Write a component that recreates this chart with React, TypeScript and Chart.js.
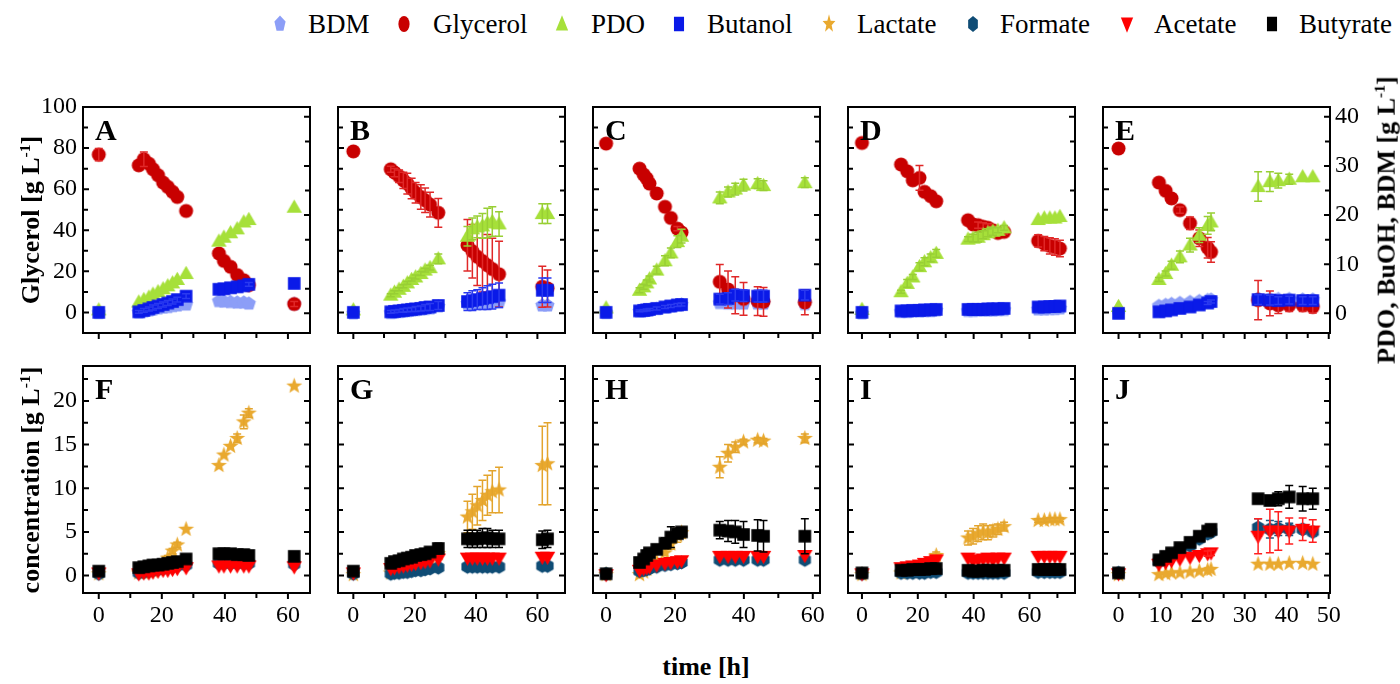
import React, { useEffect, useRef } from "react";
import { Chart, registerables } from "chart.js";
Chart.register(...registerables);

const FONT = "'Liberation Serif', 'Times New Roman', Times, serif";

// ---------------- DATA ----------------
// Panel A / F
const timeA = [0, 12.7, 14.3, 15.9, 17.2, 18.8, 20.4, 21.9, 23.4, 24.9, 27.7, 38.1, 39.7, 41.8, 43.9, 46.0, 47.6, 62.0];
const bdmA = [0.1, 0.2, 0.4, 0.6, 0.8, 1.0, 1.2, 1.3, 1.5, 1.6, 1.8, 2.5, 2.4, 2.3, 2.2, 2.2, 2.0, 1.9];
const glycerolA = [76.8, 71.6, 74.6, 72.4, 69.7, 66.8, 63.2, 61.1, 58.7, 56.2, 49.4, 28.7, 25.1, 22.2, 18.2, 15.7, 13.3, 4.1];
const glycerolErrA = [3.0, 0, 3.5, 0, 0, 0, 0, 0, 0, 0, 0, 0, 0, 0, 0, 0, 2.0, 1.2];
const pdoA = [0.7, 2.3, 2.8, 3.3, 3.9, 4.4, 5.0, 5.6, 6.2, 6.9, 8.1, 14.7, 15.5, 16.4, 17.2, 18.6, 19.1, 21.6];
const butanolA = [0.2, 0.3, 0.6, 0.9, 1.2, 1.5, 1.8, 2.1, 2.4, 2.8, 3.5, 4.9, 5.0, 5.2, 5.4, 5.6, 5.9, 6.1];
const butanolErrA = [0, 0.3, 0.4, 0.4, 0.5, 0.5, 0.5, 0.5, 0.5, 0.5, 0.5, 0, 0, 0, 0, 0, 0.4, 0];
const lactateF = [0.2, 0.3, 0.3, 0.4, 0.5, 0.7, 1.2, 2.0, 2.8, 3.5, 5.3, 12.6, 13.8, 14.8, 15.7, 17.6, 18.6, 21.7];
const lactateErrF = [0, 0, 0, 0, 0, 0, 0.2, 0.3, 0.3, 0.3, 0, 0, 0, 0, 0.5, 0.8, 0.5, 0];
const formateF = [0.2, 0.3, 0.4, 0.5, 0.6, 0.7, 0.8, 0.9, 1.0, 1.1, 1.2, 1.4, 1.4, 1.4, 1.4, 1.4, 1.4, 1.3];
const acetateF = [0.3, 0.2, 0.3, 0.3, 0.4, 0.5, 0.6, 0.6, 0.7, 0.8, 0.9, 1.1, 1.1, 1.1, 1.1, 1.1, 1.1, 1.0];
const butyrateF = [0.5, 0.9, 1.0, 1.1, 1.2, 1.2, 1.3, 1.4, 1.5, 1.6, 1.9, 2.5, 2.5, 2.5, 2.4, 2.4, 2.3, 2.2];

// Panel B / G
const timeB = [0, 12.2, 13.4, 14.9, 16.3, 17.6, 19.0, 20.3, 22.0, 23.4, 25.0, 27.7, 37.2, 38.8, 40.4, 42.1, 43.7, 45.3, 47.5, 61.6, 63.3];
const bdmB = [0.0, 0.1, 0.2, 0.3, 0.4, 0.5, 0.6, 0.7, 0.8, 0.9, 1.0, 1.4, 2.0, 2.0, 2.1, 2.1, 2.2, 2.2, 2.3, 1.6, 1.6];
const glycerolB = [78.4, 69.7, 68.1, 66.3, 64.3, 62.7, 60.3, 58.3, 56.2, 54.6, 52.5, 48.5, 32.7, 29.8, 27.1, 25.0, 23.0, 21.1, 18.6, 12.5, 11.7];
const glycerolErrB = [0, 1.5, 2, 3, 4, 5, 5, 5, 6, 6, 6, 7, 12.5, 13, 14, 15, 15, 15, 16, 10, 9];
const pdoB = [0.7, 3.7, 4.3, 4.9, 5.5, 6.2, 6.9, 7.4, 8.1, 8.8, 9.3, 11.1, 15.7, 17.2, 17.6, 17.8, 18.4, 18.7, 18.2, 20.3, 20.3];
const pdoErrB = [0, 0.3, 0.3, 0.3, 0.3, 0.3, 0.3, 0.4, 0.4, 0.4, 0.5, 1.0, 2.0, 2.2, 2.2, 2.5, 3.0, 3.0, 2.5, 2.0, 2.0];
const butanolB = [0.2, 0.3, 0.4, 0.5, 0.6, 0.7, 0.8, 0.9, 1.0, 1.2, 1.3, 1.6, 2.4, 2.6, 2.8, 3.0, 3.2, 3.4, 3.7, 4.7, 4.7];
const butanolErrB = [0, 0.3, 0.3, 0.3, 0.4, 0.4, 0.4, 0.5, 0.5, 0.6, 0.7, 0.8, 1.8, 2.0, 2.0, 2.2, 2.4, 2.5, 2.5, 2.5, 2.5];
const lactateG = [0.1, 0.3, 0.4, 0.6, 0.8, 1.0, 1.2, 1.4, 1.6, 1.8, 2.1, 2.5, 6.7, 7.3, 8.0, 8.6, 9.2, 9.6, 9.8, 12.6, 12.8];
const lactateErrG = [0, 0, 0, 0, 0, 0, 0, 0, 0.3, 0.3, 0.4, 0.5, 1.8, 2.0, 2.2, 2.3, 2.3, 2.4, 2.6, 4.5, 4.7];
const formateG = [0.2, 0.2, 0.3, 0.3, 0.4, 0.4, 0.5, 0.6, 0.6, 0.7, 0.8, 0.9, 1.0, 1.0, 1.0, 1.0, 1.0, 1.0, 1.0, 1.1, 1.1];
const acetateG = [0.3, 0.8, 0.9, 1.0, 1.1, 1.2, 1.3, 1.4, 1.5, 1.6, 1.7, 1.9, 2.0, 2.0, 2.0, 2.0, 2.0, 2.0, 2.0, 2.1, 2.1];
const butyrateG = [0.5, 1.4, 1.6, 1.7, 1.9, 2.0, 2.1, 2.3, 2.4, 2.5, 2.7, 3.1, 4.2, 4.2, 4.2, 4.3, 4.3, 4.2, 4.2, 4.1, 4.2];
const butyrateErrG = [0, 0.3, 0.3, 0.3, 0.4, 0.4, 0.4, 0.4, 0.5, 0.5, 0.5, 0.6, 1.0, 1.0, 1.0, 1.1, 1.1, 1.0, 1.0, 1.0, 1.0];

// Panel C / H
const timeC = [0, 9.7, 10.9, 11.8, 12.6, 14.7, 17.1, 18.8, 20.7, 21.9, 33.0, 35.4, 37.5, 39.9, 44.0, 45.7, 57.7];
const bdmC = [0.1, 0.4, 0.5, 0.6, 0.7, 0.9, 1.2, 1.4, 1.6, 1.8, 2.1, 2.0, 2.0, 2.0, 2.0, 2.0, 1.9];
const glycerolC = [82.2, 70.0, 67.1, 65.2, 62.7, 57.9, 51.4, 46.0, 40.8, 38.9, 14.9, 11.2, 8.4, 6.6, 5.5, 5.2, 4.9];
const glycerolErrC = [0, 0, 0, 0, 0, 0, 0, 0, 1.0, 1.5, 8.4, 9.0, 9.0, 8.0, 7.0, 7.0, 6.0];
const pdoC = [1.1, 4.7, 5.4, 6.2, 7.0, 8.8, 10.7, 12.3, 14.6, 15.7, 23.5, 24.7, 25.3, 26.1, 26.4, 26.0, 26.6];
const pdoErrC = [0, 0.5, 0.5, 0.6, 0.6, 0.8, 1.0, 1.0, 1.2, 1.4, 1.2, 1.0, 1.2, 1.2, 1.0, 1.0, 1.0];
const butanolC = [0.2, 0.5, 0.6, 0.7, 0.8, 1.0, 1.3, 1.5, 1.7, 1.8, 2.9, 3.0, 3.7, 3.6, 3.5, 3.5, 3.7];
const butanolErrC = [0, 0.2, 0.2, 0.2, 0.2, 0.3, 0.3, 0.3, 0.3, 0.3, 1.0, 1.2, 1.2, 1.2, 1.2, 1.2, 1.0];
const lactateH = [0.1, 0.1, 0.4, 0.7, 1.0, 1.6, 2.6, 3.6, 4.6, 4.9, 12.4, 14.0, 14.7, 15.3, 15.5, 15.4, 15.7];
const lactateErrH = [0, 0, 0, 0, 0, 0, 0, 0.6, 0.8, 0.6, 1.2, 1.0, 0.6, 0.3, 0.3, 0.3, 0.5];
const formateH = [0.2, 0.5, 0.6, 0.7, 0.8, 1.0, 1.2, 1.3, 1.4, 1.5, 1.8, 1.8, 1.8, 1.8, 1.8, 1.8, 1.8];
const acetateH = [0.1, 0.6, 0.8, 0.9, 1.0, 1.2, 1.4, 1.5, 1.6, 1.7, 2.2, 2.2, 2.2, 2.2, 2.2, 2.2, 2.3];
const butyrateH = [0.2, 1.5, 1.9, 2.3, 2.6, 3.0, 3.7, 4.4, 4.8, 5.0, 5.2, 5.1, 5.0, 4.7, 4.6, 4.5, 4.5];
const butyrateErrH = [0, 0, 0, 0, 0, 0.4, 0.6, 1.2, 0.5, 0.4, 1.0, 1.2, 1.3, 1.5, 1.8, 1.8, 2.0];

// Panel D / I
const timeD = [0, 14.0, 16.2, 18.2, 20.6, 22.4, 24.6, 26.6, 38.0, 39.8, 41.6, 43.4, 45.1, 46.9, 48.7, 50.9, 63.1, 65.3, 67.3, 69.1, 70.9];
const bdmD = [0.0, 0.3, 0.3, 0.4, 0.4, 0.5, 0.5, 0.6, 0.5, 0.5, 0.6, 0.6, 0.6, 0.6, 0.7, 0.7, 0.8, 0.8, 0.9, 0.9, 1.0];
const glycerolD = [82.5, 72.0, 68.7, 64.3, 65.5, 58.7, 56.6, 54.1, 44.9, 42.8, 42.5, 41.7, 41.2, 40.0, 38.7, 39.2, 34.8, 33.5, 32.4, 31.9, 31.1];
const glycerolErrD = [0, 0, 0, 0, 6.0, 0, 0, 0, 0, 0, 1.5, 2.0, 2.0, 2.0, 1.0, 1.0, 3.0, 3.5, 4.0, 4.0, 4.0];
const pdoD = [0.8, 4.4, 6.1, 7.4, 9.5, 10.5, 11.3, 12.2, 15.1, 15.3, 15.5, 16.0, 16.4, 16.7, 16.9, 17.4, 19.1, 19.4, 19.4, 19.4, 19.7];
const pdoErrD = [0, 0.3, 0.8, 0.5, 0.8, 0.8, 0.8, 0.8, 0.5, 0.8, 1.0, 0.8, 0.8, 0.8, 0.5, 0.5, 0, 0, 0, 0, 0];
const butanolD = [0.2, 0.5, 0.5, 0.6, 0.6, 0.7, 0.7, 0.8, 0.8, 0.8, 0.8, 0.8, 0.9, 0.9, 0.9, 1.0, 1.3, 1.3, 1.4, 1.4, 1.5];
const lactateI = [0.1, 0.3, 0.4, 0.6, 0.8, 1.1, 1.6, 2.3, 4.3, 4.5, 4.8, 5.0, 4.9, 5.1, 5.3, 5.6, 6.3, 6.3, 6.4, 6.4, 6.4];
const lactateErrI = [0, 0, 0, 0, 0, 0, 0.2, 0.4, 0.8, 0.9, 0.9, 0.9, 0.8, 0.7, 0.6, 0.5, 0.2, 0.2, 0.2, 0.2, 0.2];
const formateI = [0.2, 0.3, 0.3, 0.3, 0.3, 0.3, 0.4, 0.4, 0.3, 0.3, 0.3, 0.3, 0.3, 0.3, 0.3, 0.3, 0.4, 0.4, 0.4, 0.4, 0.4];
const acetateI = [0.2, 0.9, 1.0, 1.1, 1.2, 1.4, 1.6, 1.8, 2.0, 1.7, 1.8, 1.9, 2.0, 1.8, 2.0, 2.0, 2.2, 2.2, 2.2, 2.2, 2.2];
const butyrateI = [0.3, 0.6, 0.6, 0.7, 0.7, 0.7, 0.8, 0.8, 0.6, 0.5, 0.5, 0.6, 0.6, 0.5, 0.6, 0.6, 0.7, 0.7, 0.7, 0.7, 0.7];

// Panel E / J
const timeE = [0, 9.6, 11.2, 12.6, 14.6, 17.0, 19.2, 21.2, 22.0, 33.2, 36.0, 38.0, 40.6, 43.8, 46.2];
const bdmE = [0.1, 1.5, 1.7, 1.9, 2.1, 2.3, 2.5, 2.7, 2.8, 3.0, 2.9, 2.9, 2.9, 2.8, 2.8];
const glycerolE = [79.8, 63.2, 59.2, 55.5, 49.8, 43.4, 36.1, 31.5, 29.4, 6.0, 4.4, 3.5, 3.5, 3.5, 2.7];
const glycerolErrE = [0, 0, 0, 0, 1.5, 3.0, 4.0, 5.0, 5.0, 9.5, 6.0, 4.0, 3.0, 3.0, 3.0];
const pdoE = [1.4, 6.9, 8.1, 9.8, 11.5, 13.9, 15.9, 17.9, 18.6, 25.8, 26.8, 27.0, 27.3, 27.8, 27.8];
const pdoErrE = [0, 0.4, 0.5, 0.8, 1.2, 1.4, 1.5, 1.8, 1.8, 3.0, 2.0, 1.5, 1.0, 0, 0];
const butanolE = [0.0, 0.3, 0.5, 0.7, 1.0, 1.3, 1.7, 2.1, 2.4, 2.8, 2.7, 2.6, 2.7, 2.6, 2.6];
const butanolErrE = [0, 0, 0, 0, 0, 0, 0, 0.3, 0.3, 1.0, 1.0, 0.8, 0.8, 0.8, 0.8];
const lactateJ = [0.1, 0.1, 0.2, 0.3, 0.3, 0.4, 0.5, 0.6, 0.7, 1.3, 1.3, 1.3, 1.4, 1.4, 1.3];
const formateJ = [0.3, 1.6, 1.9, 2.3, 2.9, 3.4, 4.2, 4.8, 5.0, 5.5, 5.3, 5.4, 5.3, 5.3, 5.0];
const formateErrJ = [0, 0, 0, 0, 0, 0, 0.3, 0.5, 0.5, 1.0, 1.0, 0.8, 0.7, 0.5, 0.5];
const acetateJ = [0.2, 1.3, 1.5, 1.7, 1.9, 2.1, 2.3, 2.5, 2.6, 4.5, 5.1, 5.1, 5.1, 5.3, 5.1];
const acetateErrJ = [0, 0, 0, 0, 0, 0, 0, 0.3, 0.3, 2.0, 2.5, 2.2, 1.5, 1.3, 1.3];
const butyrateJ = [0.3, 1.8, 2.2, 2.6, 3.2, 3.8, 4.5, 5.1, 5.3, 8.8, 8.6, 8.8, 9.0, 8.8, 8.8];
const butyrateErrJ = [0, 0, 0, 0, 0, 0, 0.3, 0.4, 0.4, 0, 0.5, 0.8, 1.3, 1.4, 1.2];

// legend / series names
const LEGEND = ["BDM", "Glycerol", "PDO", "Butanol", "Lactate", "Formate", "Acetate", "Butyrate"];
const PANEL_LETTERS = ["A", "B", "C", "D", "E", "F", "G", "H", "I", "J"];

// x-axis ranges per column (min, max, tick step, label step)
const X_MIN = [-5, -5, -3.8, -5, -3.7];
const X_MAX = [67, 69, 62.1, 76.3, 50.3];
const X_STEP = [10, 10, 10, 10, 5];
const X_LABEL_STEP = [20, 20, 20, 20, 10];

// ---------------- STYLES ----------------
const STYLE: Record<string, { color: string; err: string; shape: string; axis: string }> = {
  BDM: { color: "#8c9ef7", err: "#c7cffc", shape: "pentagon", axis: "y1" },
  Glycerol: { color: "#c80000", err: "#e02828", shape: "circle", axis: "y" },
  PDO: { color: "#a6e03a", err: "#98cf34", shape: "triangle", axis: "y1" },
  Butanol: { color: "#0a1ae8", err: "#2a3af0", shape: "square", axis: "y1" },
  Lactate: { color: "#e9a92f", err: "#e3a42c", shape: "star", axis: "y" },
  Formate: { color: "#0f4c75", err: "#1b5a85", shape: "hexagon", axis: "y" },
  Acetate: { color: "#ff0000", err: "#ff2020", shape: "triangleDown", axis: "y" },
  Butyrate: { color: "#000000", err: "#000000", shape: "square", axis: "y" },
};

type SeriesDef = { key: string; values: number[]; errors?: number[] };
type PanelDef = { row: number; col: number; time: number[]; series: SeriesDef[] };

const PANELS: PanelDef[] = [
  { row: 0, col: 0, time: timeA, series: [
    { key: "BDM", values: bdmA }, { key: "Glycerol", values: glycerolA, errors: glycerolErrA },
    { key: "PDO", values: pdoA }, { key: "Butanol", values: butanolA, errors: butanolErrA } ] },
  { row: 0, col: 1, time: timeB, series: [
    { key: "BDM", values: bdmB }, { key: "Glycerol", values: glycerolB, errors: glycerolErrB },
    { key: "PDO", values: pdoB, errors: pdoErrB }, { key: "Butanol", values: butanolB, errors: butanolErrB } ] },
  { row: 0, col: 2, time: timeC, series: [
    { key: "BDM", values: bdmC }, { key: "Glycerol", values: glycerolC, errors: glycerolErrC },
    { key: "PDO", values: pdoC, errors: pdoErrC }, { key: "Butanol", values: butanolC, errors: butanolErrC } ] },
  { row: 0, col: 3, time: timeD, series: [
    { key: "BDM", values: bdmD }, { key: "Glycerol", values: glycerolD, errors: glycerolErrD },
    { key: "PDO", values: pdoD, errors: pdoErrD }, { key: "Butanol", values: butanolD } ] },
  { row: 0, col: 4, time: timeE, series: [
    { key: "BDM", values: bdmE }, { key: "Glycerol", values: glycerolE, errors: glycerolErrE },
    { key: "PDO", values: pdoE, errors: pdoErrE }, { key: "Butanol", values: butanolE, errors: butanolErrE } ] },
  { row: 1, col: 0, time: timeA, series: [
    { key: "Lactate", values: lactateF, errors: lactateErrF }, { key: "Formate", values: formateF },
    { key: "Acetate", values: acetateF }, { key: "Butyrate", values: butyrateF } ] },
  { row: 1, col: 1, time: timeB, series: [
    { key: "Lactate", values: lactateG, errors: lactateErrG }, { key: "Formate", values: formateG },
    { key: "Acetate", values: acetateG }, { key: "Butyrate", values: butyrateG, errors: butyrateErrG } ] },
  { row: 1, col: 2, time: timeC, series: [
    { key: "Lactate", values: lactateH, errors: lactateErrH }, { key: "Formate", values: formateH },
    { key: "Acetate", values: acetateH }, { key: "Butyrate", values: butyrateH, errors: butyrateErrH } ] },
  { row: 1, col: 3, time: timeD, series: [
    { key: "Lactate", values: lactateI, errors: lactateErrI }, { key: "Formate", values: formateI },
    { key: "Acetate", values: acetateI }, { key: "Butyrate", values: butyrateI } ] },
  { row: 1, col: 4, time: timeE, series: [
    { key: "Lactate", values: lactateJ }, { key: "Formate", values: formateJ, errors: formateErrJ },
    { key: "Acetate", values: acetateJ, errors: acetateErrJ }, { key: "Butyrate", values: butyrateJ, errors: butyrateErrJ } ] },
];

// ---------------- LAYOUT ----------------
const COL_LEFT = [83, 338, 593, 848, 1103];
const BOX_W = 227;
const ROW_TOP = [107, 366];
const ROW_H = [226, 227];
const PADL = 70, PADR = 70, PADT = 22, PADB = 45;
const LEGEND_MARK_X = [280, 404, 562, 679, 829, 973, 1127, 1272];
const LEGEND_TEXT_X = [308, 433, 591, 707, 857, 1000, 1154, 1299];

// ---------------- MARKERS ----------------
function shapePath(ctx: CanvasRenderingContext2D, shape: string, cx: number, cy: number, r: number) {
  ctx.beginPath();
  const poly = (n: number, rad: number, start: number) => {
    for (let i = 0; i < n; i++) {
      const a = start + (i * 2 * Math.PI) / n;
      const x = cx + rad * Math.cos(a), y = cy + rad * Math.sin(a);
      if (i === 0) ctx.moveTo(x, y); else ctx.lineTo(x, y);
    }
  };
  switch (shape) {
    case "circle": ctx.arc(cx, cy, r, 0, Math.PI * 2); break;
    case "square": ctx.rect(cx - r * 0.9, cy - r * 0.9, r * 1.8, r * 1.8); break;
    case "triangle":
      ctx.moveTo(cx, cy - r * 1.1); ctx.lineTo(cx + r * 1.1, cy + r * 0.8); ctx.lineTo(cx - r * 1.1, cy + r * 0.8); break;
    case "triangleDown":
      ctx.moveTo(cx, cy + r * 1.1); ctx.lineTo(cx + r * 1.1, cy - r * 0.8); ctx.lineTo(cx - r * 1.1, cy - r * 0.8); break;
    case "pentagon": poly(5, r * 1.05, -Math.PI / 2); break;
    case "hexagon": poly(6, r * 1.0, -Math.PI / 2); break;
    case "star": {
      for (let i = 0; i < 10; i++) {
        const a = -Math.PI / 2 + (i * Math.PI) / 5;
        const rad = i % 2 === 0 ? r * 1.2 : r * 0.5;
        const x = cx + rad * Math.cos(a), y = cy + rad * Math.sin(a);
        if (i === 0) ctx.moveTo(x, y); else ctx.lineTo(x, y);
      }
      break;
    }
  }
  ctx.closePath();
}

function makeMarker(key: string, r: number): HTMLCanvasElement {
  const st = STYLE[key];
  const size = Math.ceil(r * 2.6) + 2;
  const c = document.createElement("canvas");
  c.width = size; c.height = size;
  const ctx = c.getContext("2d")!;
  ctx.fillStyle = st.color;
  shapePath(ctx, st.shape, size / 2, size / 2, r);
  ctx.fill();
  return c;
}

const isMult = (v: number, s: number) => Math.abs(v / s - Math.round(v / s)) < 1e-6;

// ---------------- PLUGINS ----------------
const errorBarPlugin = {
  id: "errorBars",
  afterDatasetDraw(chart: any, args: any) {
    const ds = chart.data.datasets[args.index];
    if (!ds.errors) return;
    const ys = chart.scales[ds.yAxisID];
    const ctx = chart.ctx;
    ctx.save();
    ctx.strokeStyle = ds.errColor;
    ctx.lineWidth = 1.5;
    ds.data.forEach((pt: any, i: number) => {
      const e = ds.errors[i];
      if (!e) return;
      const el = args.meta.data[i];
      const x = el.x;
      const yTop = ys.getPixelForValue(pt.y + e);
      const yBot = ys.getPixelForValue(pt.y - e);
      ctx.beginPath();
      ctx.moveTo(x, yTop); ctx.lineTo(x, yBot);
      ctx.moveTo(x - 4, yTop); ctx.lineTo(x + 4, yTop);
      ctx.moveTo(x - 4, yBot); ctx.lineTo(x + 4, yBot);
      ctx.stroke();
    });
    ctx.restore();
  },
};

function makeFramePlugin(steps: { x: number; xMajor: number; y: number; yMajor: number; y1: number; y1Major: number }) {
  return {
    id: "frame",
    afterDraw(chart: any) {
      const ctx = chart.ctx;
      const a = chart.chartArea;
      ctx.save();
      ctx.strokeStyle = "#000";
      ctx.lineWidth = 2;
      const each = (scale: any, step: number, major: number, fn: (p: number, len: number) => void) => {
        const start = Math.ceil(scale.min / step - 1e-9) * step;
        for (let v = start; v <= scale.max + 1e-9; v += step) {
          const p = scale.getPixelForValue(v);
          fn(p, isMult(v, major) ? 6 : 5);
        }
      };
      ctx.beginPath();
      each(chart.scales.x, steps.x, steps.xMajor, (p, len) => {
        if (p < a.left + 1 || p > a.right - 1) return;
        ctx.moveTo(p, a.bottom); ctx.lineTo(p, a.bottom + len);
      });
      each(chart.scales.y, steps.y, steps.yMajor, (p, len) => {
        if (p < a.top + 1 || p > a.bottom - 1) return;
        ctx.moveTo(a.left, p); ctx.lineTo(a.left + len, p);
      });
      each(chart.scales.y1, steps.y1, steps.y1Major, (p, len) => {
        if (p < a.top + 1 || p > a.bottom - 1) return;
        ctx.moveTo(a.right, p); ctx.lineTo(a.right - len, p);
      });
      ctx.stroke();
      ctx.strokeRect(a.left, a.top, a.right - a.left, a.bottom - a.top);
      ctx.restore();
    },
  };
}

function buildChart(canvas: HTMLCanvasElement, p: PanelDef, markers: Record<string, HTMLCanvasElement>) {
  const top = p.row === 0;
  const col = p.col;
  const tickFont = { family: FONT, size: 24 };
  const yMin = top ? -10 : -2, yMax = top ? 100 : 24;
  const yStep = top ? 10 : 2.5, yLabel = top ? 20 : 5;
  const y1Min = top ? -4 : -2, y1Max = top ? 42 : 24;
  const y1Step = top ? 5 : 2.5, y1Label = top ? 10 : 5;

  const datasets = p.series.map((s) => {
    const st = STYLE[s.key];
    return {
      label: s.key,
      data: p.time.map((t, i) => ({ x: t, y: s.values[i] })),
      errors: s.errors,
      errColor: st.err,
      yAxisID: top ? st.axis : "y",
      pointStyle: markers[s.key],
      pointRadius: 7,
      pointHoverRadius: 7,
      showLine: false,
      clip: false,
      order: 20 - LEGEND.indexOf(s.key),
    };
  });

  return new Chart(canvas, {
    type: "scatter",
    data: { datasets } as any,
    plugins: [errorBarPlugin, makeFramePlugin({ x: X_STEP[col], xMajor: X_LABEL_STEP[col], y: yStep, yMajor: yLabel, y1: y1Step, y1Major: y1Label })],
    options: {
      animation: false,
      responsive: false,
      devicePixelRatio: 1,
      events: [],
      layout: { padding: { top: PADT, left: 0, right: 0, bottom: 0 } },
      plugins: { legend: { display: false }, tooltip: { enabled: false } },
      scales: {
        x: {
          type: "linear", position: "bottom", min: X_MIN[col], max: X_MAX[col],
          grid: { display: false, drawTicks: false }, border: { display: false },
          ticks: {
            stepSize: X_STEP[col], includeBounds: false, autoSkip: false, maxRotation: 0, minRotation: 0,
            padding: 8, font: tickFont, color: "#000",
            callback: (v: any) => (!top && v >= 0 && isMult(v, X_LABEL_STEP[col]) ? String(Math.round(v)) : ""),
          },
          afterFit: (s: any) => { s.height = PADB; },
        },
        y: {
          type: "linear", position: "left", min: yMin, max: yMax,
          grid: { display: false, drawTicks: false }, border: { display: false },
          ticks: {
            stepSize: yStep, includeBounds: false, autoSkip: false, padding: 6, font: tickFont, color: "#000",
            callback: (v: any) => (col === 0 && v >= 0 && isMult(v, yLabel) ? String(Math.round(v)) : ""),
          },
          afterFit: (s: any) => { s.width = PADL; },
        },
        y1: {
          type: "linear", position: "right", min: y1Min, max: y1Max,
          grid: { display: false, drawTicks: false }, border: { display: false },
          ticks: {
            stepSize: y1Step, includeBounds: false, autoSkip: false, padding: 5, font: tickFont, color: "#000",
            callback: (v: any) => (top && col === 4 && v >= 0 && v <= 40 && isMult(v, y1Label) ? String(Math.round(v)) : ""),
          },
          afterFit: (s: any) => { s.width = PADR; },
        },
      },
    } as any,
  });
}

const titleStyle: React.CSSProperties = {
  position: "absolute", fontFamily: FONT, fontWeight: "bold", fontSize: 26, whiteSpace: "nowrap",
  transform: "translate(-50%, -50%) rotate(-90deg)", lineHeight: "30px", color: "#000",
};

export default function App() {
  const canvasRefs = useRef<(HTMLCanvasElement | null)[]>([]);
  const legendRefs = useRef<(HTMLCanvasElement | null)[]>([]);

  useEffect(() => {
    const markers: Record<string, HTMLCanvasElement> = {};
    LEGEND.forEach((k) => { markers[k] = makeMarker(k, 7); });
    const charts = PANELS.map((p, i) => buildChart(canvasRefs.current[i]!, p, markers));
    LEGEND.forEach((k, i) => {
      const c = legendRefs.current[i];
      if (!c) return;
      const ctx = c.getContext("2d")!;
      ctx.clearRect(0, 0, c.width, c.height);
      ctx.save();
      ctx.translate(c.width / 2, c.height / 2);
      ctx.scale(0.8, 1.15);
      ctx.fillStyle = STYLE[k].color;
      shapePath(ctx, STYLE[k].shape, 0, 0, 7);
      ctx.fill();
      ctx.restore();
    });
    return () => charts.forEach((c) => c.destroy());
  }, []);

  return (
    <div style={{ position: "absolute", left: 0, top: 0, width: 1400, height: 684, background: "#fff", overflow: "hidden" }}>
      {/* legend */}
      {LEGEND.map((k, i) => (
        <React.Fragment key={k}>
          <canvas ref={(el) => { legendRefs.current[i] = el; }} width={20} height={24}
            style={{ position: "absolute", left: LEGEND_MARK_X[i] - 10, top: 12, width: 20, height: 24 }} />
          <div style={{ position: "absolute", left: LEGEND_TEXT_X[i], top: 8, fontFamily: FONT, fontSize: 27, lineHeight: "32px", color: "#000", whiteSpace: "nowrap" }}>{k}</div>
        </React.Fragment>
      ))}
      {/* panels */}
      {PANELS.map((p, i) => {
        const left = COL_LEFT[p.col] - PADL;
        const top = ROW_TOP[p.row] - PADT;
        const w = BOX_W + PADL + PADR;
        const h = ROW_H[p.row] + PADT + PADB;
        return (
          <canvas key={i} ref={(el) => { canvasRefs.current[i] = el; }} width={w} height={h}
            style={{ position: "absolute", left, top, width: w, height: h }} />
        );
      })}
      {PANELS.map((p, i) => (
        <div key={"l" + i} style={{ position: "absolute", left: COL_LEFT[p.col] + 12, top: ROW_TOP[p.row] + 8, fontFamily: FONT, fontWeight: "bold", fontSize: 30, lineHeight: "30px", color: "#000" }}>
          {PANEL_LETTERS[i]}
        </div>
      ))}
      {/* axis titles */}
      <div style={{ ...titleStyle, left: 28, top: 220 }}>Glycerol [g L<sup style={{ fontSize: "0.6em" }}>-1</sup>]</div>
      <div style={{ ...titleStyle, left: 28, top: 480 }}>concentration [g L<sup style={{ fontSize: "0.6em" }}>-1</sup>]</div>
      <div style={{ ...titleStyle, left: 1383, top: 220 }}>PDO, BuOH, BDM [g L<sup style={{ fontSize: "0.6em" }}>-1</sup>]</div>
      <div style={{ position: "absolute", left: 706, top: 667, transform: "translate(-50%, -50%)", fontFamily: FONT, fontWeight: "bold", fontSize: 26, whiteSpace: "nowrap", color: "#000" }}>time [h]</div>
    </div>
  );
}
